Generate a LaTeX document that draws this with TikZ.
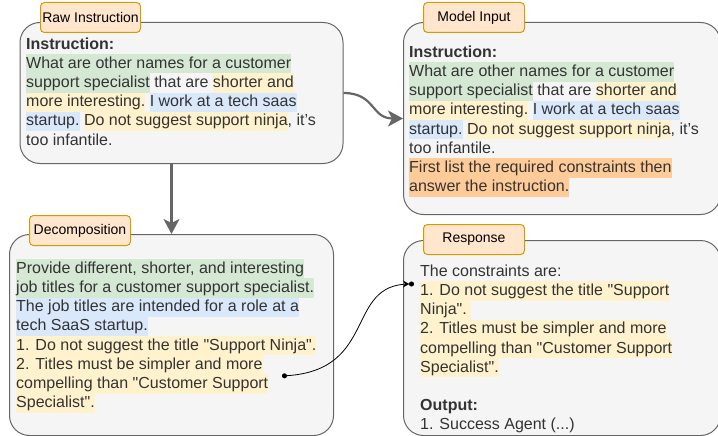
\documentclass[tikz,border=0pt]{standalone}
\usepackage{fontspec}
\setmainfont{Liberation Sans}[Ligatures=TeXOff]
\usetikzlibrary{arrows.meta}
\definecolor{grn}{HTML}{D5E8D4}
\definecolor{blu}{HTML}{DAE8FC}
\definecolor{yel}{HTML}{FFF2CC}
\definecolor{org}{HTML}{FFCC99}
\definecolor{lblfill}{HTML}{FFE6CC}
\definecolor{lbldraw}{HTML}{D79B00}
\definecolor{boxfill}{HTML}{F5F5F5}
\definecolor{boxdraw}{HTML}{666666}
\definecolor{txtc}{HTML}{333333}
\newcommand\ls{\rule[-5.2pt]{0pt}{19.2pt}}
\newcommand\hl[2]{{\setlength\fboxsep{0pt}\colorbox{#1}{\ls#2}}}
\newcommand\qq{\symbol{34}}
\begin{document}
\begin{tikzpicture}[x=1pt,y=-1pt,
  panel/.style={draw=boxdraw, fill=boxfill, line width=1pt, rounded corners=20pt, anchor=north west, inner sep=0pt},
  lbl/.style={draw=lbldraw, fill=lblfill, line width=1pt, rounded corners=4pt, anchor=north west, inner sep=0pt,
    minimum width=101pt, minimum height=30pt, text=black, font=\fontsize{14}{16.8}\selectfont},
  txt/.style={anchor=north west, inner sep=0pt, align=left, text=txtc, font=\fontsize{16}{19.2}\selectfont},
  garrow/.style={draw=boxdraw, line width=2.2pt, -{Stealth[length=15pt,width=16pt,inset=4pt]}},
  karrow/.style={draw=black, line width=0.8pt, {Circle[length=5pt]}-{Stealth[length=6pt,width=7pt] Circle[length=5pt]}}
]
\useasboundingbox (0,0) rectangle (718,436);

% panels
\node[panel, minimum width=323pt, minimum height=141pt] (tl) at (19.5,22) {};
\node[panel, minimum width=317pt, minimum height=192pt] (tr) at (403,22) {};
\node[panel, minimum width=324pt, minimum height=201pt] (bl) at (9,234) {};
\node[panel, minimum width=317pt, minimum height=195pt] (br) at (403,240) {};

% labels
\node[lbl, minimum width=100pt] (lraw) at (40,2) {Raw Instruction};
\node[lbl] (lmod) at (423,2) {Model Input};
\node[lbl] (ldec) at (29,215) {Decomposition};
\node[lbl] (lres) at (423,224) {Response};

% texts
\node[txt] (ttl) at (26,34.8) {%
\ls\textbf{Instruction:}\\
\ls\hl{grn}{What are other names for a customer}\\
\ls\hl{grn}{support specialist} that are \hl{yel}{shorter and}\\
\ls\hl{yel}{more interesting.} \hl{blu}{I work at a tech saas}\\
\ls\hl{blu}{startup.} \hl{yel}{Do not suggest support ninja}, it’s\\
\ls too infantile.};

\node[txt] (ttr) at (409,43) {%
\ls\textbf{Instruction:}\\
\ls\hl{grn}{What are other names for a customer}\\
\ls\hl{grn}{support specialist} that are \hl{yel}{shorter and}\\
\ls\hl{yel}{more interesting.} \hl{blu}{I work at a tech saas}\\
\ls\hl{blu}{startup.} \hl{yel}{Do not suggest support ninja}, it’s\\
\ls too infantile.\\
\ls\hl{org}{First list the required constraints then}\\
\ls\hl{org}{answer the instruction.}};

\node[txt] (tbl) at (16,259) {%
\ls\hl{grn}{Provide different, shorter, and interesting}\\
\ls\hl{grn}{job titles for a customer support specialist.}\\
\ls\hl{blu}{The job titles are intended for a role at a}\\
\ls\hl{blu}{tech SaaS startup.}\\
\ls\hl{yel}{1. Do not suggest the title \qq Support Ninja\qq.}\\
\ls\hl{yel}{2. Titles must be simpler and more}\\
\ls\hl{yel}{compelling than \qq Customer Support}\\
\ls\hl{yel}{Specialist\qq.}};

\node[txt] (tbr) at (420,262) {%
\ls The constraints are:\\
\ls\hl{yel}{1. Do not suggest the title \qq Support}\\
\ls\hl{yel}{Ninja\qq.\ }\\
\ls\hl{yel}{2. Titles must be simpler and more}\\
\ls\hl{yel}{compelling than \qq Customer Support}\\
\ls\hl{yel}{Specialist\qq.}\\
\ls\\
\ls\textbf{Output:}\\
\ls 1. Success Agent (...)};

% connectors
\draw[garrow] (bl.north |- tl.south) -- (bl.north);
\draw[garrow] (tl.east) .. controls +(32,0) and +(-32,0) .. (tr.west);
\coordinate (cs) at (282,376);
\coordinate (ce) at (414,284);
\draw[karrow] (cs) .. controls (378,370) and (345,284) .. (ce);
\end{tikzpicture}
\end{document}
